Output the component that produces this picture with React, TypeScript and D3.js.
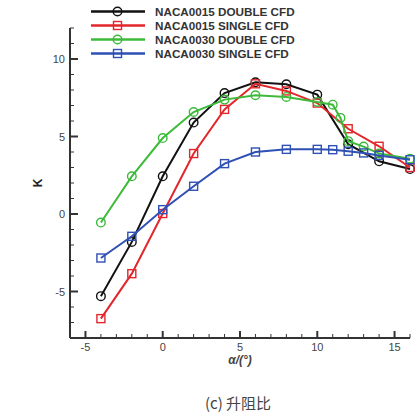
import React from "react";
import * as d3 from "d3";

// Lift-to-drag ratio K against angle of attack α (deg)
const alpha0015Double = [-4, -2, 0, 2, 4, 6, 8, 10, 12, 14, 16];
const k0015Double = [-5.3, -1.8, 2.43, 5.9, 7.8, 8.5, 8.37, 7.7, 4.5, 3.4, 2.9];

const alpha0015Single = [-4, -2, 0, 2, 4, 6, 8, 10, 12, 14, 16];
const k0015Single = [-6.75, -3.85, 0.03, 3.9, 6.75, 8.4, 7.94, 7.16, 5.5, 4.37, 3.0];

const alpha0030Double = [-4, -2, 0, 2, 4, 6, 8, 10, 11, 11.5, 12, 13, 14, 16];
const k0030Double = [-0.55, 2.43, 4.9, 6.58, 7.38, 7.66, 7.55, 7.23, 7.05, 6.2, 4.7, 4.35, 3.9, 3.57];

const alpha0030Single = [-4, -2, 0, 2, 4, 6, 8, 10, 11, 12, 13, 14, 16];
const k0030Single = [-2.84, -1.44, 0.28, 1.79, 3.25, 4.0, 4.17, 4.17, 4.15, 4.05, 3.94, 3.78, 3.5];

const seriesNames = [
  "NACA0015 DOUBLE CFD",
  "NACA0015 SINGLE CFD",
  "NACA0030 DOUBLE CFD",
  "NACA0030 SINGLE CFD",
];
const seriesColors = ["#111111", "#e3262b", "#3dba3a", "#2f50b4"];
const seriesMarkers = ["circle", "square", "circle", "square"];

const xTicks = [-5, 0, 5, 10, 15];
const yTicks = [-5, 0, 5, 10];

const xLabel = "α/(°)";
const yLabel = "K";
const caption = "(c) 升阻比";

export default function App() {
  const width = 420;
  const height = 419;
  const left = 70;
  const right = 410;
  const top = 28;
  const bottom = 338;

  const x = d3.scaleLinear().domain([-6, 16]).range([left, right]);
  const y = d3.scaleLinear().domain([-8, 12]).range([bottom, top]);

  const series = [
    { xs: alpha0015Double, ys: k0015Double },
    { xs: alpha0015Single, ys: k0015Single },
    { xs: alpha0030Double, ys: k0030Double },
    { xs: alpha0030Single, ys: k0030Single },
  ].map((s, i) => ({
    name: seriesNames[i],
    color: seriesColors[i],
    marker: seriesMarkers[i],
    points: s.xs.map((a, j) => [a, s.ys[j]] as [number, number]),
  }));

  const line = d3
    .line<[number, number]>()
    .x((d) => x(d[0]))
    .y((d) => y(d[1]));

  const axisColor = "#333";
  const labelColor = "#444";
  const font = "'Liberation Sans', Arial, sans-serif";

  const xMinor = d3.range(-6, 17, 1).filter((v) => !xTicks.includes(v));
  const yMinor = d3.range(-8, 13, 1).filter((v) => !yTicks.includes(v));

  const marker = (kind: string, cx: number, cy: number, color: string, key: string) =>
    kind === "circle" ? (
      <circle key={key} cx={cx} cy={cy} r={4.3} fill="none" stroke={color} strokeWidth={1.4} />
    ) : (
      <rect key={key} x={cx - 4} y={cy - 4} width={8} height={8} fill="none" stroke={color} strokeWidth={1.4} />
    );

  return (
    <svg
      width={width}
      height={height}
      style={{ position: "absolute", left: 0, top: 0, background: "#fff" }}
    >
      {/* axes */}
      <line x1={left} x2={left} y1={top} y2={bottom} stroke={axisColor} strokeWidth={2} />
      <line x1={left} x2={right} y1={bottom} y2={bottom} stroke={axisColor} strokeWidth={2} />

      {xTicks.map((t) => (
        <g key={"xt" + t}>
          <line x1={x(t)} x2={x(t)} y1={bottom} y2={bottom - 7} stroke={axisColor} strokeWidth={2} />
          <text
            x={x(t)}
            y={bottom + 13}
            textAnchor="middle"
            fontSize={11}
            fontFamily={font}
            fill={labelColor}
          >
            {t}
          </text>
        </g>
      ))}
      {xMinor.map((t) => (
        <line key={"xm" + t} x1={x(t)} x2={x(t)} y1={bottom} y2={bottom - 4} stroke={axisColor} strokeWidth={1} />
      ))}

      {yTicks.map((t) => (
        <g key={"yt" + t}>
          <line x1={left} x2={left + 8} y1={y(t)} y2={y(t)} stroke={axisColor} strokeWidth={2} />
          <text
            x={left - 5}
            y={y(t) + 4}
            textAnchor="end"
            fontSize={11}
            fontFamily={font}
            fill={labelColor}
          >
            {t}
          </text>
        </g>
      ))}
      {yMinor.map((t) => (
        <line key={"ym" + t} x1={left} x2={left + 4} y1={y(t)} y2={y(t)} stroke={axisColor} strokeWidth={1} />
      ))}

      {/* axis titles */}
      <text
        transform={`translate(42, ${y(2)}) rotate(-90)`}
        textAnchor="middle"
        fontSize={12}
        fontWeight="bold"
        fontFamily={font}
        fill="#222"
      >
        {yLabel}
      </text>
      <text
        x={x(5)}
        y={bottom + 26}
        textAnchor="middle"
        fontSize={12}
        fontWeight="bold"
        fontStyle="italic"
        fontFamily={font}
        fill={labelColor}
      >
        {xLabel}
      </text>

      {/* data */}
      {series.map((s, i) => (
        <g key={"s" + i}>
          <path d={line(s.points) || ""} fill="none" stroke={s.color} strokeWidth={2} />
          {s.points.map((p, j) => marker(s.marker, x(p[0]), y(p[1]), s.color, `m${i}-${j}`))}
        </g>
      ))}

      {/* legend */}
      {series.map((s, i) => {
        const ly = 11.5 + i * 14;
        return (
          <g key={"lg" + i}>
            <line x1={91} x2={145} y1={ly} y2={ly} stroke={s.color} strokeWidth={2.5} />
            {marker(s.marker, 117.5, ly, s.color, "lm" + i)}
            <text
              x={155}
              y={ly + 4}
              fontSize={11.7}
              fontWeight="bold"
              fontFamily={font}
              fill="#333"
            >
              {s.name}
            </text>
          </g>
        );
      })}

      {/* caption */}
      <text
        x={238}
        y={409}
        textAnchor="middle"
        fontSize={15}
        fontFamily="'Noto Sans CJK SC', 'Noto Sans', sans-serif"
        fill="#444"
      >
        {caption}
      </text>
    </svg>
  );
}
